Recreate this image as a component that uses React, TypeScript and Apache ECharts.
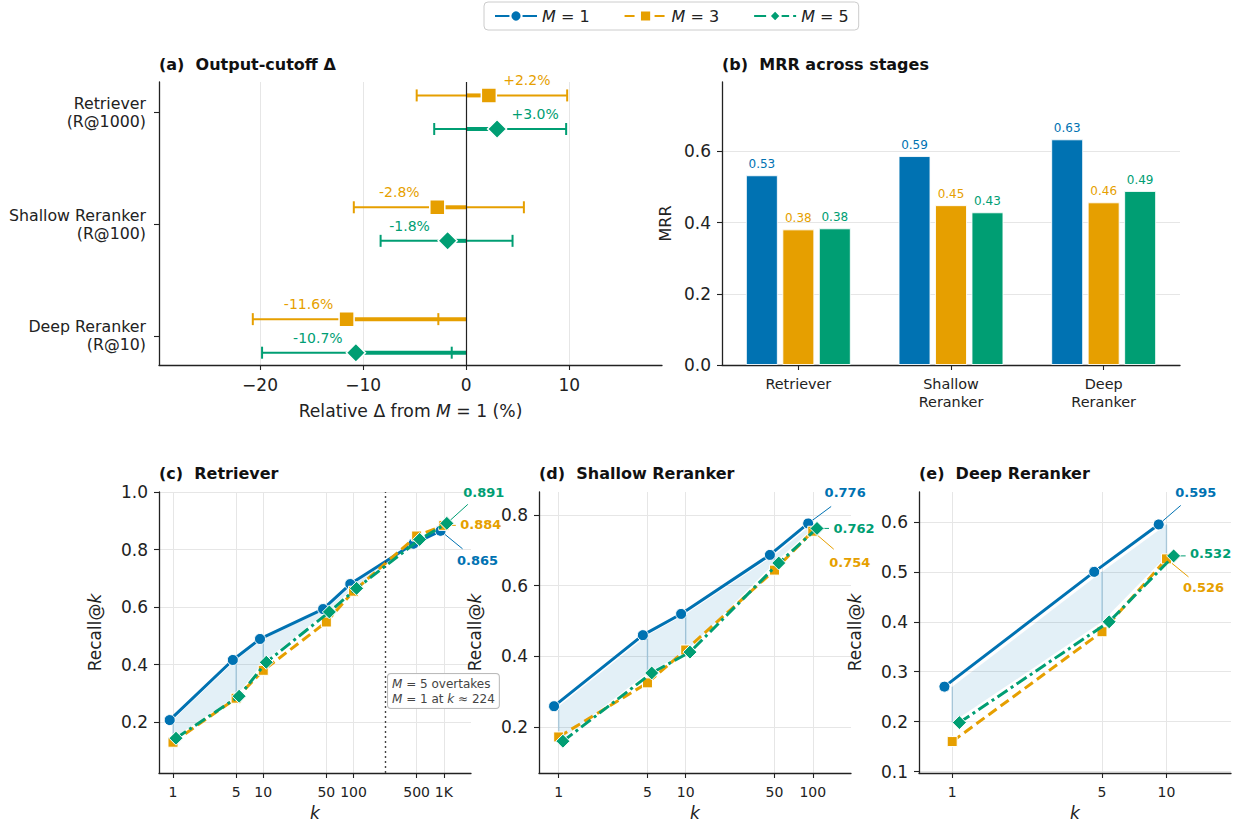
import React, { useEffect, useRef } from 'react';
import * as echarts from 'echarts';

const BLUE = '#0072B2';
const ORANGE = '#E69F00';
const GREEN = '#009E73';
const FONT = 'DejaVu Sans';
const AX = '#222222';
const GRIDC = '#e6e6e6';

// ---------- Panel (a): output-cutoff delta ----------
const stageLabelsA = ['Retriever\n(R@1000)', 'Shallow Reranker\n(R@100)', 'Deep Reranker\n(R@10)'];
const stagePosA = [2, 1, 0];
const deltaM3 = [2.2, -2.8, -11.6];
const loM3 = [-4.8, -10.9, -20.7];
const hiM3 = [9.8, 5.6, -2.7];
const deltaM5 = [3.0, -1.8, -10.7];
const loM5 = [-3.1, -8.3, -19.8];
const hiM5 = [9.7, 4.5, -1.4];
const ticksA = [-20, -10, 0, 10];

// ---------- Panel (b): MRR ----------
const stagesB = ['Retriever', 'Shallow\nReranker', 'Deep\nReranker'];
const mrrM1 = [0.533, 0.587, 0.634];
const mrrM3 = [0.381, 0.449, 0.457];
const mrrM5 = [0.384, 0.429, 0.489];
const ticksB = [0, 0.2, 0.4, 0.6];

// ---------- Panel (c): Retriever recall ----------
const kRet = [1, 5, 10, 50, 100, 500, 1000];
const recRetM1 = [0.207, 0.416, 0.489, 0.593, 0.68, 0.82, 0.865];
const recRetM3 = [0.13, 0.283, 0.38, 0.548, 0.655, 0.847, 0.884];
const recRetM5 = [0.144, 0.29, 0.408, 0.583, 0.665, 0.835, 0.891];
const crossK = 224;
const kTicksC = [1, 5, 10, 50, 100, 500, 1000];
const yTicksC = [0.2, 0.4, 0.6, 0.8, 1.0];

// ---------- Panel (d): Shallow reranker recall ----------
const kSha = [1, 5, 10, 50, 100];
const recShaM1 = [0.259, 0.46, 0.52, 0.687, 0.776];
const recShaM3 = [0.172, 0.325, 0.418, 0.644, 0.754];
const recShaM5 = [0.16, 0.353, 0.412, 0.664, 0.762];
const kTicksD = [1, 5, 10, 50, 100];
const yTicksD = [0.2, 0.4, 0.6, 0.8];

// ---------- Panel (e): Deep reranker recall ----------
const kDeep = [1, 5, 10];
const recDeepM1 = [0.27, 0.5, 0.595];
const recDeepM3 = [0.16, 0.38, 0.526];
const recDeepM5 = [0.198, 0.4, 0.532];
const kTicksE = [1, 5, 10];
const yTicksE = [0.1, 0.2, 0.3, 0.4, 0.5, 0.6];

const seriesNames = ['M = 1', 'M = 3', 'M = 5'];

function buildOption() {
  const colors = [BLUE, ORANGE, GREEN];
  const dodge = [0.92, 1.0, 1.08];
  const symbols = ['circle', 'rect', 'diamond'];
  const symSizes = [11, 10, 14];
  const dashes: any[] = ['solid', [10, 5], [12, 4, 3, 4]];

  const panels = [
    { ks: kRet, vals: [recRetM1, recRetM3, recRetM5], xTicks: kTicksC, yTicks: yTicksC, yMin: 0.023, yMax: 1.0, kMin: 0.7, kMax: 2000, left: 159, dy: [30, -1, -31], leaders: [[22, 18], [12, 0], [21, -19]], title: '(c)  Retriever' },
    { ks: kSha, vals: [recShaM1, recShaM3, recShaM5], xTicks: kTicksD, yTicks: yTicksD, yMin: 0.07, yMax: 0.865, kMin: 0.7, kMax: 200, left: 539, dy: [-31, 31, 0], leaders: [[23, -17], [21, 18], [12, 0]], title: '(d)  Shallow Reranker' },
    { ks: kDeep, vals: [recDeepM1, recDeepM3, recDeepM5], xTicks: kTicksE, yTicks: yTicksE, yMin: 0.097, yMax: 0.66, kMin: 0.7, kMax: 20, left: 919, dy: [-32, 29, -2], leaders: [[22, -19], [22, 18], [12, 0]], title: '(e)  Deep Reranker' },
  ];

  const axisLineStyle = { show: true, onZero: false, lineStyle: { color: AX, width: 1.3 } };
  const tickStyle = (vals: number[]) => ({ show: true, customValues: vals, length: 5, lineStyle: { color: AX, width: 1.1 } });
  const italicRich = (size: number) => ({ i: { fontStyle: 'italic', fontSize: size, fontFamily: FONT, color: AX } });
  const minusFmt = (v: number) => (v < 0 ? '\u2212' + Math.abs(v) : String(v));
  const fmtK = (v: number) => {
    const k = Math.round(Math.pow(10, v));
    return k >= 1000 ? k / 1000 + 'K' : String(k);
  };

  const grid: any[] = [
    { left: 159, top: 82, width: 503, height: 283, outerBoundsMode: 'none' },
    { left: 722, top: 82, width: 458, height: 283, outerBoundsMode: 'none' },
    ...panels.map((p) => ({ left: p.left, top: 492, width: 312, height: 281, outerBoundsMode: 'none' })),
  ];

  const xAxis: any[] = [
    {
      type: 'value', gridIndex: 0, min: -29.8, max: 19,
      axisLine: axisLineStyle, axisTick: tickStyle(ticksA),
      axisLabel: { customValues: ticksA, formatter: minusFmt, fontSize: 17, color: AX, margin: 11, fontFamily: FONT },
      splitLine: { show: true, lineStyle: { color: GRIDC, width: 1 } },
      name: 'Relative \u0394 from {i|M} = 1 (%)', nameLocation: 'middle', nameGap: 37,
      nameTextStyle: { fontSize: 17.2, color: AX, fontFamily: FONT, rich: italicRich(17.2) },
    },
    {
      type: 'category', gridIndex: 1, data: stagesB, boundaryGap: true,
      axisLine: axisLineStyle,
      axisTick: { show: true, alignWithLabel: true, length: 5, lineStyle: { color: AX, width: 1.1 } },
      axisLabel: { fontSize: 14.4, color: AX, lineHeight: 18, margin: 10, fontFamily: FONT },
      splitLine: { show: false },
    },
    ...panels.map((p, i) => ({
      type: 'value', gridIndex: i + 2, min: Math.log10(p.kMin), max: Math.log10(p.kMax),
      axisLine: axisLineStyle, axisTick: tickStyle(p.xTicks.map((k) => Math.log10(k))),
      axisLabel: { customValues: p.xTicks.map((k) => Math.log10(k)), formatter: fmtK, fontSize: 14, color: AX, margin: 12, fontFamily: FONT },
      splitLine: { show: true, lineStyle: { color: GRIDC, width: 1 } },
      name: '{i|k}', nameLocation: 'middle', nameGap: 31,
      nameTextStyle: { fontSize: 17, color: AX, fontFamily: FONT, rich: italicRich(17) },
    })),
  ];

  const yAxis: any[] = [
    {
      type: 'value', gridIndex: 0, min: -0.26, max: 2.27,
      axisLine: axisLineStyle, axisTick: tickStyle([0, 1, 2]),
      axisLabel: {
        customValues: [0, 1, 2],
        formatter: (v: number) => stageLabelsA[stagePosA.indexOf(Math.round(v))] || '',
        fontSize: 15.8, lineHeight: 18, color: AX, margin: 13, fontFamily: FONT,
      },
      splitLine: { show: false },
    },
    {
      type: 'value', gridIndex: 1, min: 0, max: 0.795,
      axisLine: axisLineStyle, axisTick: tickStyle(ticksB),
      axisLabel: { customValues: ticksB, formatter: (v: number) => v.toFixed(1), fontSize: 17, color: AX, margin: 11, fontFamily: FONT },
      splitLine: { show: true, lineStyle: { color: GRIDC, width: 1 } },
      name: 'MRR', nameLocation: 'middle', nameGap: 49,
      nameTextStyle: { fontSize: 16, color: AX, fontFamily: FONT },
    },
    ...panels.map((p, i) => ({
      type: 'value', gridIndex: i + 2, min: p.yMin, max: p.yMax,
      axisLine: axisLineStyle, axisTick: tickStyle(p.yTicks),
      axisLabel: { customValues: p.yTicks, formatter: (v: number) => v.toFixed(1), fontSize: 17, color: AX, margin: 11, fontFamily: FONT },
      splitLine: { show: true, lineStyle: { color: GRIDC, width: 1 } },
      name: 'Recall@{i|k}', nameLocation: 'middle', nameGap: 56,
      nameTextStyle: { fontSize: 17, color: AX, fontFamily: FONT, rich: italicRich(17) },
    })),
  ];

  const series: any[] = [];

  // Recall lines (first so legend icons come from them)
  panels.forEach((p, pi) => {
    seriesNames.forEach((nm, j) => {
      series.push({
        type: 'line', name: nm, xAxisIndex: pi + 2, yAxisIndex: pi + 2,
        data: p.ks.map((k, i) => [Math.log10(k * dodge[j]), p.vals[j][i]]),
        symbol: symbols[j], symbolSize: symSizes[j], showSymbol: true,
        lineStyle: { color: colors[j], width: 3, type: dashes[j] },
        itemStyle: { color: colors[j], borderColor: '#ffffff', borderWidth: 1 },
        emphasis: { disabled: true }, z: 3 + j,
        markLine: pi === 0 && j === 0 ? {
          silent: true, symbol: ['none', 'none'], label: { show: false },
          lineStyle: { type: [2, 3], color: '#444', width: 1.4 },
          emphasis: { disabled: true },
          data: [{ xAxis: Math.log10(crossK) }],
        } : undefined,
      });
    });

    // Shaded gap between M=1 and M=5
    const up = p.vals[0];
    const lo = p.vals[2];
    series.push({
      type: 'custom', xAxisIndex: pi + 2, yAxisIndex: pi + 2, silent: true, z: 1,
      data: [[Math.log10(p.ks[0]), p.yMin]],
      renderItem: (params: any, api: any) => {
        const regions: number[][][] = [];
        let cur: number[][] | null = null;
        const vlines: any[] = [];
        for (let i = 0; i < p.ks.length; i++) {
          const x = Math.log10(p.ks[i]);
          const d = up[i] - lo[i];
          if (d > 0) {
            if (!cur) {
              cur = [];
              if (i > 0) {
                const d0 = up[i - 1] - lo[i - 1];
                const x0 = Math.log10(p.ks[i - 1]);
                const t = d0 / (d0 - d);
                const yc = up[i - 1] + t * (up[i] - up[i - 1]);
                cur.push([x0 + t * (x - x0), yc, yc]);
              }
            }
            cur.push([x, up[i], lo[i]]);
            const a = api.coord([x, up[i]]);
            const b = api.coord([x, lo[i]]);
            vlines.push({ type: 'line', shape: { x1: a[0], y1: a[1], x2: b[0], y2: b[1] }, style: { stroke: 'rgba(0,114,178,0.22)', lineWidth: 1.5 } });
          } else if (cur) {
            const d0 = up[i - 1] - lo[i - 1];
            const x0 = Math.log10(p.ks[i - 1]);
            const t = d0 / (d0 - d);
            const yc = up[i - 1] + t * (up[i] - up[i - 1]);
            cur.push([x0 + t * (x - x0), yc, yc]);
            regions.push(cur);
            cur = null;
          }
        }
        if (cur) regions.push(cur);
        const polys = regions.map((r) => {
          const top = r.map((q) => api.coord([q[0], q[1]]));
          const bot = r.slice().reverse().map((q) => api.coord([q[0], q[2]]));
          return { type: 'polygon', shape: { points: top.concat(bot) }, style: { fill: 'rgba(0,114,178,0.11)' } };
        });
        return { type: 'group', children: [...polys, ...vlines] };
      },
    });

    // End-value annotations with leader lines
    series.push({
      type: 'custom', xAxisIndex: pi + 2, yAxisIndex: pi + 2, silent: true, z: 2,
      data: [[Math.log10(p.ks[p.ks.length - 1]), p.vals[0][p.ks.length - 1]]],
      renderItem: (params: any, api: any) => {
        const n = p.ks.length - 1;
        const children: any[] = [];
        [0, 1, 2].forEach((j) => {
          const v = p.vals[j][n];
          const pt = api.coord([Math.log10(p.ks[n] * dodge[j]), v]);
          const ld = p.leaders[j];
          children.push({ type: 'line', shape: { x1: pt[0], y1: pt[1], x2: pt[0] + ld[0], y2: pt[1] + ld[1] }, style: { stroke: colors[j], lineWidth: 1 } });
          children.push({
            type: 'text',
            style: { text: v.toFixed(3), x: pt[0] + 37, y: pt[1] + p.dy[j], align: 'center', verticalAlign: 'middle', fill: colors[j], fontSize: 13, fontWeight: 'bold', fontFamily: FONT },
          });
        });
        return { type: 'group', children };
      },
    });
  });

  // Panel (a) error bars
  const errSeries = (deltas: number[], los: number[], his: number[], off: number, color: string) => ({
    type: 'custom', xAxisIndex: 0, yAxisIndex: 0, silent: true, z: 4,
    data: stagePosA.map((pos, i) => [deltas[i], pos + off, los[i], his[i]]),
    renderItem: (params: any, api: any) => {
      const v = api.value(0);
      const y = api.value(1);
      const l = api.coord([api.value(2), y]);
      const h = api.coord([api.value(3), y]);
      const z0 = api.coord([0, y]);
      const pv = api.coord([v, y]);
      const st = { stroke: color, lineWidth: 2 };
      return {
        type: 'group', children: [
          { type: 'line', shape: { x1: l[0], y1: l[1], x2: h[0], y2: h[1] }, style: st },
          { type: 'line', shape: { x1: l[0], y1: l[1] - 6, x2: l[0], y2: l[1] + 6 }, style: st },
          { type: 'line', shape: { x1: h[0], y1: h[1] - 6, x2: h[0], y2: h[1] + 6 }, style: st },
          { type: 'line', shape: { x1: z0[0], y1: z0[1], x2: pv[0], y2: pv[1] }, style: { stroke: color, lineWidth: 4 } },
        ],
      };
    },
  });
  series.push(errSeries(deltaM3, loM3, hiM3, 0.15, ORANGE));
  series.push(errSeries(deltaM5, loM5, hiM5, -0.15, GREEN));

  const fmtPct = (v: number) => (v > 0 ? '+' : '') + v.toFixed(1) + '%';
  const scatterA = (deltas: number[], off: number, color: string, symbol: string, size: number, withZero: boolean) => ({
    type: 'scatter', name: 'a' + symbol, xAxisIndex: 0, yAxisIndex: 0, z: 5,
    symbol, symbolSize: size,
    data: stagePosA.map((pos, i) => ({ value: [deltas[i], pos + off], label: { offset: [deltas[i] > 0 ? 38 : -38, -15] } })),
    itemStyle: { color, opacity: 1, borderColor: '#ffffff', borderWidth: 1.5 },
    label: { show: true, position: 'inside', formatter: (pp: any) => fmtPct(pp.value[0]), color, fontSize: 14, fontFamily: FONT },
    emphasis: { disabled: true },
    markLine: withZero ? {
      silent: true, symbol: ['none', 'none'], label: { show: false },
      lineStyle: { type: 'solid', color: AX, width: 1.2 },
      emphasis: { disabled: true },
      data: [{ xAxis: 0 }],
    } : undefined,
  });
  series.push(scatterA(deltaM3, 0.15, ORANGE, 'rect', 15, true));
  series.push(scatterA(deltaM5, -0.15, GREEN, 'diamond', 19, false));

  // Panel (b) bars
  [mrrM1, mrrM3, mrrM5].forEach((vals, j) => {
    series.push({
      type: 'bar', name: seriesNames[j], xAxisIndex: 1, yAxisIndex: 1,
      data: vals, barWidth: 32, barGap: '14%',
      itemStyle: { color: colors[j], borderColor: 'rgba(255,255,255,0.85)', borderWidth: 1 },
      label: { show: true, position: 'top', distance: 5, formatter: (pp: any) => pp.value.toFixed(2), color: colors[j], fontSize: 12, fontFamily: FONT },
      emphasis: { disabled: true },
    });
  });

  const titleStyle = { fontSize: 16, fontWeight: 'bold', color: '#111', fontFamily: FONT };
  const title = [
    { text: '(a)  Output-cutoff \u0394', left: 159, top: 56 },
    { text: '(b)  MRR across stages', left: 722, top: 56 },
    ...panels.map((p) => ({ text: p.title, left: p.left, top: 465 })),
  ].map((t) => ({ ...t, padding: 0, textStyle: titleStyle }));

  return {
    animation: false,
    backgroundColor: '#ffffff',
    textStyle: { fontFamily: FONT },
    title,
    legend: {
      data: seriesNames, top: 2, left: 484,
      itemWidth: 42, itemHeight: 14, itemGap: 34,
      padding: [6, 10], borderColor: '#cccccc', borderWidth: 1, borderRadius: 4, backgroundColor: '#ffffff',
      selectedMode: false,
      formatter: (n: string) => n.replace('M', '{i|M}'),
      textStyle: { fontSize: 16, color: AX, fontFamily: FONT, rich: { i: { fontStyle: 'italic', fontSize: 16, fontFamily: FONT, color: AX } } },
    },
    grid, xAxis, yAxis, series,
    graphic: [
      {
        type: 'text', left: 387, top: 673, z: 10,
        style: {
          text: '{i|M} = 5 overtakes\n{i|M} = 1 at {i|k} \u2248 224',
          fontSize: 12, fontFamily: FONT, fill: '#444', lineHeight: 15,
          backgroundColor: 'rgba(255,255,255,0.92)', borderColor: '#bbbbbb', borderWidth: 1, borderRadius: 3, padding: [2, 4],
          rich: { i: { fontStyle: 'italic', fontSize: 12, fontFamily: FONT, fill: '#444' } },
        },
      },
    ],
  };
}

export default function App() {
  const ref = useRef<HTMLDivElement>(null);
  useEffect(() => {
    if (!ref.current) return;
    const chart = echarts.init(ref.current, null, { renderer: 'svg' });
    chart.setOption(buildOption() as any);
    return () => chart.dispose();
  }, []);
  return <div ref={ref} style={{ position: 'fixed', left: 0, top: 0, width: 1233, height: 824, background: '#fff' }} />;
}
